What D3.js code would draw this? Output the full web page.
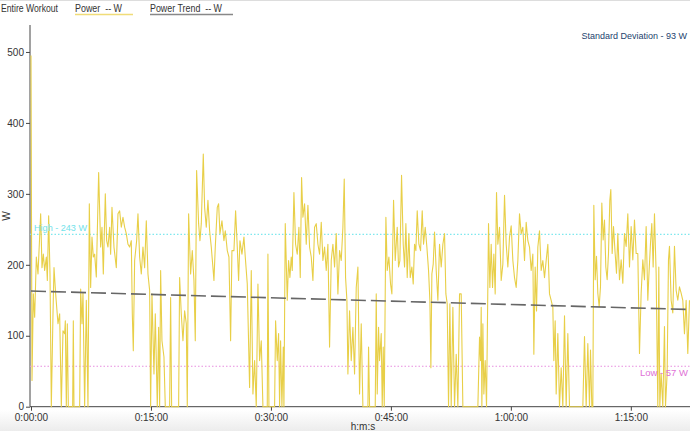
<!DOCTYPE html>
<html><head><meta charset="utf-8">
<script src="https://cdn.jsdelivr.net/npm/d3@7/dist/d3.min.js"></script>
<style>
html,body{margin:0;padding:0;background:#fff;}
svg{display:block;font-family:"Liberation Sans",Arial,Helvetica,sans-serif;}
</style></head>
<body><svg id="c" width="690" height="431"></svg>
<script>
// elapsed time (seconds) and power (W)
const timeSec = [0,7.5,17.5,27.5,40,52.5,72.5,82.5,92.5,102.5,115,122.5,132.5,142.5,152.5,165,172.5,185,202.5,215,227.5,240,252.5,257.5,265,272.5,280,312.5,317.5,322.5,365,372.5,382.5,390,402.5,415,427.5,437.5,447.5,457.5,467.5,477.5,490,507.5,522.5,532.5,542.5,557.5,567.5,577.5,590,597.5,607.5,622.5,640,652.5,665,677.5,690,702.5,715,727.5,740,752.5,760,767.5,777.5,792.5,
802.5,815,827.5,840,852.5,865,877.5,890,897.5,907.5,922.5,932.5,947.5,957.5,965,972.5,982.5,997.5,1007.5,1040,1047.5,1055,1107.5,1115,1127.5,1140,1152.5,1165,1172.5,1182.5,1197.5,1210,1222.5,1232.5,1242.5,1257.5,1267.5,1277.5,1292.5,1302.5,1315,1327.5,1340,1352.5,1365,1372.5,1382.5,1397.5,1407.5,1417.5,1432.5,1447.5,1457.5,1472.5,1485,1497.5,1507.5,1522.5,1535,1547.5,1557.5,1567.5,1582.5,1597.5,1607.5,1622.5,
1640,1652.5,1665,1677.5,1690,1702.5,1715,1727.5,1740,1772.5,1777.5,1785,1827.5,1835,1847.5,1857.5,1865,1872.5,1882.5,1892.5,1897.5,1907.5,1922.5,1932.5,1942.5,1952.5,1960,1972.5,1985,1997.5,2010,2020,2030,2040,2052.5,2065,2077.5,2090,2102.5,2115,2127.5,2140,2152.5,2165,2177.5,2190,2202.5,2215,2227.5,2240,2252.5,2265,2277.5,2290,2302.5,2315,2327.5,2340,2350,2360,2370,2377.5,2390,2402.5,2415,2427.5,2440,2452.5,
2465,2477.5,2490,2527.5,2532.5,2540,2582.5,2590,2597.5,2607.5,2615,2627.5,2635,2642.5,2650,2662.5,2672.5,2685,2697.5,2707.5,2720,2732.5,2747.5,2757.5,2767.5,2780,2792.5,2802.5,2812.5,2822.5,2835,2845,2857.5,2867.5,2877.5,2887.5,2897.5,2910,2922.5,2935,2945,2957.5,2970,2982.5,2992.5,3000,3007.5,3017.5,3027.5,3040,3052.5,3065,3077.5,3090,3102.5,3112.5,3122.5,3132.5,3142.5,3152.5,3165,3177.5,3190,3202.5,3215,3227.5,3240,
3352.5,3365,3372.5,3377.5,3382.5,3390,3397.5,3407.5,3417.5,3432.5,3442.5,3452.5,3462.5,3472.5,3482.5,3492.5,3502.5,3515,3527.5,3540,3552.5,3565,3577.5,3590,3602.5,3615,3627.5,3640,3652.5,3665,3677.5,3690,3702.5,3715,3727.5,3740,3752.5,3765,3772.5,3782.5,3792.5,3802.5,3815,3827.5,3840,3852.5,3865,3877.5,3890,3902.5,3915,3922.5,3932.5,3940,3952.5,3965,3977.5,3990,4002.5,4015,4027.5,4040,
4140,4152.5,4165,4177.5,4190,4197.5,4207.5,4215,4222.5,4232.5,4242.5,4252.5,4262.5,4272.5,4282.5,4292.5,4302.5,4312.5,4322.5,4332.5,4342.5,4350,4360,4370,4382.5,4392.5,4402.5,4415,4427.5,4440,4452.5,4465,4477.5,4490,4502.5,4515,4527.5,4540,4552.5,4565,4577.5,4590,4602.5,4615,4627.5,4635,4647.5,4657.5,4667.5,4677.5,4690,4702.5,4710,4717.5,4727.5,4740,4752.5,4760,4772.5,4782.5,4790,4802.5,4815,4827.5,4840,4852.5,4865,4877.5,4890,4902.5,4915,4927.5,4940];
const powerW = [495,37,159,126,211,187,272,196,215,192,211,178,269,187,0,131,196,159,117,131,0,107,103,121,0,117,0,0,121,0,0,166,117,161,0,150,0,286,168,239,211,215,183,330,225,253,187,300,234,225,253,215,281,225,196,272,276,253,267,253,244,229,225,234,131,79,206,234,
272,211,187,225,196,262,187,164,0,159,46,131,0,112,0,192,93,70,0,0,154,0,0,182,131,93,135,117,0,272,187,220,178,93,333,258,234,258,356,281,253,291,248,225,196,178,225,281,286,244,262,234,248,220,211,93,220,220,276,225,178,234,215,239,211,173,
27,192,18,65,0,173,65,93,0,0,215,0,0,121,65,103,0,93,0,84,0,258,150,206,182,211,192,302,229,215,253,182,323,267,286,229,284,225,211,178,253,258,229,215,260,206,225,192,229,84,206,229,197,244,159,220,206,253,321,182,150,46,135,65,112,46,168,197,
18,117,0,0,84,0,0,159,18,112,65,103,0,84,0,267,192,211,173,159,291,206,253,197,206,326,229,197,258,182,244,182,197,173,229,220,276,229,220,276,229,253,225,192,150,55,187,201,246,192,150,229,197,229,244,159,145,0,145,0,140,0,74,0,159,159,0,
0,98,65,140,0,117,18,65,0,258,168,229,168,215,159,302,229,253,178,201,298,229,197,239,255,206,182,168,206,272,244,253,206,260,234,225,192,215,74,197,135,225,248,192,206,182,206,229,159,150,140,65,121,18,103,0,55,0,128,0,103,0,
0,99,0,89,0,80,0,0,284,179,212,160,141,169,287,235,263,197,179,216,291,306,216,254,216,188,244,179,207,174,244,226,272,197,254,207,263,216,216,75,160,207,179,254,150,183,230,258,197,272,188,0,197,0,47,0,113,0,47,207,226,150,132,226,164,150,169,160,150,103,150,75,150];
const trendW = [163, 137];          // linear trend, start and end
const highW = 243, lowW = 57, stdDevW = 93;
const xTickSec = [0, 900, 1800, 2700, 3600, 4500];
const yTicks = [0, 100, 200, 300, 400, 500];
const legendItems = ["Power  -- W", "Power Trend  -- W"];

const svg = d3.select("#c");
const x = d3.scaleLinear().domain([0, 4944]).range([31, 690]);
const y = d3.scaleLinear().domain([0, 538]).range([406.7, 25]);

// background bands
svg.append("rect").attr("x",0).attr("y",0).attr("width",690).attr("height",1).attr("fill","#ddd");
const defs = svg.append("defs");
const grad = defs.append("linearGradient").attr("id","bg").attr("x1",0).attr("x2",0).attr("y1",0).attr("y2",1);
grad.append("stop").attr("offset","0").attr("stop-color","#ffffff");
grad.append("stop").attr("offset","1").attr("stop-color","#ececec");
svg.append("rect").attr("x",0).attr("y",410).attr("width",690).attr("height",21).attr("fill","url(#bg)");

defs.append("clipPath").attr("id","clip")
  .append("rect").attr("x",30).attr("y",20).attr("width",660).attr("height",390);

// legend
svg.append("text").attr("x",1).attr("y",12).attr("font-size",10.5).attr("fill","#333")
  .attr("textLength",57).attr("lengthAdjust","spacingAndGlyphs").text("Entire Workout");
const lg = [{x:75,w:58,c:"#f0dc78",tl:47},{x:150,w:83,c:"#888",tl:72}];
legendItems.forEach((t,i)=>{
  svg.append("text").attr("x",lg[i].x).attr("y",12).attr("font-size",10.5).attr("fill","#333").attr("xml:space","preserve")
    .attr("textLength",lg[i].tl).attr("lengthAdjust","spacingAndGlyphs").text(t);
  svg.append("line").attr("x1",lg[i].x).attr("x2",lg[i].x+lg[i].w).attr("y1",14.5).attr("y2",14.5)
    .attr("stroke",lg[i].c).attr("stroke-width",1.5);
});

// axes
const yAxis = svg.append("g").attr("transform","translate(30,0)")
  .call(d3.axisLeft(y).tickValues(yTicks).tickSize(4).tickPadding(2));
yAxis.select(".domain").attr("d","M0,25V406.7").attr("stroke","#444");
const fmt = s => { const h=Math.floor(s/3600), m=Math.floor(s%3600/60), sec=s%60;
  return h+":"+String(m).padStart(2,"0")+":"+String(sec).padStart(2,"0"); };
const xAxis = svg.append("g").attr("transform","translate(0,406.7)")
  .call(d3.axisBottom(x).tickValues(xTickSec).tickFormat(fmt).tickSize(4).tickPadding(3));
xAxis.select(".domain").attr("d","M30,0H690").attr("stroke","#444");
svg.selectAll(".tick text").attr("font-size",10).attr("fill","#333")
  .attr("font-family","'Liberation Sans',Arial,sans-serif");
svg.selectAll(".tick line").attr("stroke","#444");

svg.append("text").attr("x",363).attr("y",430).attr("text-anchor","middle").attr("font-size",10).attr("fill","#333").text("h:m:s");
svg.append("text").attr("transform","translate(10,216) rotate(-90)").attr("text-anchor","middle").attr("font-size",10).attr("fill","#333").text("W");

const plot = svg.append("g").attr("clip-path","url(#clip)");

// high / low reference lines
plot.append("line").attr("x1",30).attr("x2",690).attr("y1",y(highW)).attr("y2",y(highW))
  .attr("stroke","#7ee8ee").attr("stroke-width",1.2).attr("stroke-dasharray","1.5,2");
plot.append("line").attr("x1",30).attr("x2",690).attr("y1",y(lowW)).attr("y2",y(lowW))
  .attr("stroke","#e78ee0").attr("stroke-width",1.2).attr("stroke-dasharray","1.5,2");

// power line
const data = timeSec.map((t,i)=>({t, v: powerW[i]}));
plot.append("path").datum(data)
  .attr("d", d3.line().x(d=>x(d.t)).y(d=>y(d.v)))
  .attr("fill","none").attr("stroke","#e8cf48").attr("stroke-width",1.1).attr("stroke-linejoin","round");

// trend line
plot.append("line").attr("x1",x(0)).attr("x2",x(4944)).attr("y1",y(trendW[0])).attr("y2",y(trendW[1]))
  .attr("stroke","#666").attr("stroke-width",1.6).attr("stroke-dasharray","15,5");

// labels
svg.append("text").attr("x",34).attr("y",y(highW)-3).attr("font-size",9.5).attr("fill","#72e2ea")
  .attr("textLength",53).attr("lengthAdjust","spacingAndGlyphs").text("High - "+highW+" W");
svg.append("text").attr("x",688).attr("y",y(lowW)+10).attr("text-anchor","end").attr("font-size",9.5).attr("fill","#e070d6").text("Low - "+lowW+" W");
svg.append("text").attr("x",687).attr("y",39).attr("text-anchor","end").attr("font-size",9).attr("fill","#1d3f6e")
  .text("Standard Deviation - "+stdDevW+" W");
</script></body></html>
